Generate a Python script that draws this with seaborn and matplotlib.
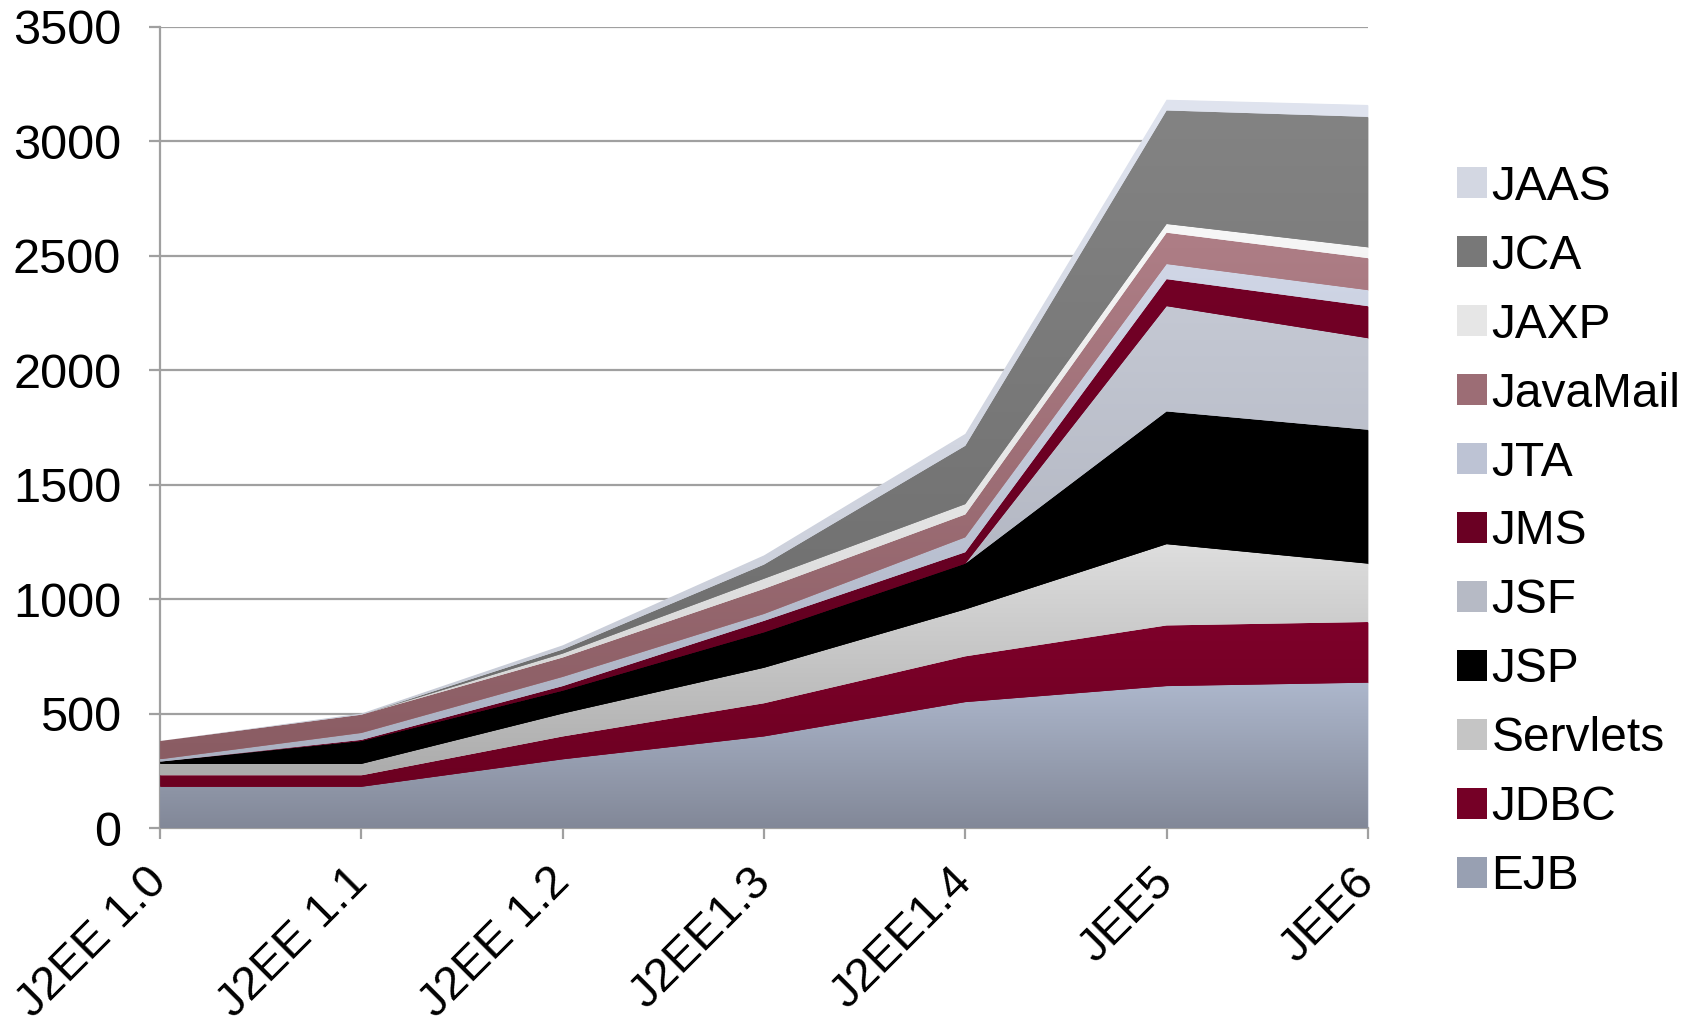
import numpy as np
import pandas as pd
import matplotlib
matplotlib.use("Agg")
import matplotlib.pyplot as plt
import seaborn as sns
from matplotlib.colors import LinearSegmentedColormap, to_rgb
from matplotlib.patches import Patch

# values (pages per spec, roughly)
releases = ["J2EE 1.0", "J2EE 1.1", "J2EE 1.2", "J2EE1.3", "J2EE1.4", "JEE5", "JEE6"]
ejb      = [180, 180, 300, 400, 550, 620, 635]
jdbc     = [50, 50, 100, 145, 200, 265, 265]
servlets = [50, 50, 100, 155, 205, 355, 255]
jsp      = [10, 100, 100, 155, 200, 580, 585]
jsf      = [0, 0, 0, 0, 0, 460, 400]
jms      = [0, 5, 20, 50, 50, 118, 140]
jta      = [10, 30, 40, 30, 65, 66, 70]
javamail = [80, 80, 85, 110, 100, 137, 140]
jaxp     = [0, 0, 17, 44, 45, 38, 47]
jca      = [0, 0, 18, 62, 255, 496, 570]
jaas     = [0, 5, 18, 40, 52, 47, 52]

series = ["EJB", "JDBC", "Servlets", "JSP", "JSF", "JMS", "JTA",
          "JavaMail", "JAXP", "JCA", "JAAS"]
df = pd.DataFrame({
    "EJB": ejb, "JDBC": jdbc, "Servlets": servlets, "JSP": jsp, "JSF": jsf,
    "JMS": jms, "JTA": jta, "JavaMail": javamail, "JAXP": jaxp,
    "JCA": jca, "JAAS": jaas,
}, index=releases)

# (top colour, bottom colour) for the gradient fills
grad = {
    "EJB":      ("#adb7cc", "#828898"),
    "JDBC":     ("#7e002a", "#6c0021"),
    "Servlets": ("#dedede", "#acacac"),
    "JSP":      ("#000000", "#000000"),
    "JSF":      ("#c4c8d3", "#a8acb8"),
    "JMS":      ("#730026", "#600020"),
    "JTA":      ("#d0d6e6", "#aab1c2"),
    "JavaMail": ("#ae7e86", "#8a5c63"),
    "JAXP":     ("#f7f7f7", "#d4d4d4"),
    "JCA":      ("#838383", "#6c6c6c"),
    "JAAS":     ("#e0e4ef", "#c6cad5"),
}

sns.set_theme(style="white")
plt.rcParams["font.family"] = ["Liberation Sans", "DejaVu Sans"]
plt.rcParams["text.color"] = "black"
plt.rcParams["xtick.labelcolor"] = "black"
plt.rcParams["ytick.labelcolor"] = "black"

fig = plt.figure(figsize=(16.94, 10.35), dpi=100)
ax = fig.add_axes([0.0945, 0.2, 0.713, 0.774])

x = np.arange(len(releases))
polys = ax.stackplot(x, *[df[s].values for s in series],
                     colors=[grad[s][0] for s in series], linewidth=0, zorder=2)

# gradient fill clipped to each band
for poly, s in zip(polys, series):
    path = poly.get_paths()[0]
    verts = path.vertices
    ymin, ymax = verts[:, 1].min(), verts[:, 1].max()
    if ymax - ymin < 1e-6:
        continue
    cmap = LinearSegmentedColormap.from_list(s, [grad[s][1], grad[s][0]])
    g = np.linspace(0, 1, 256).reshape(-1, 1)
    im = ax.imshow(g, cmap=cmap, origin="lower", aspect="auto",
                   extent=[x[0], x[-1], ymin, ymax], zorder=3)
    im.set_clip_path(path, transform=ax.transData)

ax.set_xlim(0, len(releases) - 1)
ax.set_ylim(0, 3500)
ax.set_yticks(range(0, 3501, 500))
ax.set_xticks(x)
ax.set_xticklabels(releases, rotation=45, ha="right", va="center",
                   rotation_mode="anchor")

ax.grid(axis="y", color="#a0a0a0", linewidth=1.6, zorder=0)
ax.grid(axis="x", visible=False)
ax.set_axisbelow(True)
for side in ["top", "right"]:
    ax.spines[side].set_visible(False)
for side in ["left", "bottom"]:
    ax.spines[side].set_color("#a0a0a0")
    ax.spines[side].set_linewidth(1.6)
ax.tick_params(axis="y", length=8, width=1.6, color="#a0a0a0",
               labelsize=35, pad=20, left=True, labelcolor="black")
ax.tick_params(axis="x", length=8, width=1.6, color="#a0a0a0",
               labelsize=34, pad=26, bottom=True, labelcolor="black")


def mid(s):
    a, b = np.array(to_rgb(grad[s][0])), np.array(to_rgb(grad[s][1]))
    return tuple((a + b) / 2)


handles = [Patch(facecolor=mid(s), edgecolor="none", label=s)
           for s in reversed(series)]
fig.legend(handles=handles, loc="center left", bbox_to_anchor=(0.86, 0.486),
           frameon=False, fontsize=34.5, labelspacing=0.5, handlelength=0.62,
           handleheight=0.62, handletextpad=0.1, borderpad=0, borderaxespad=0,
           labelcolor="black")

fig.savefig("out.png", dpi=100)
